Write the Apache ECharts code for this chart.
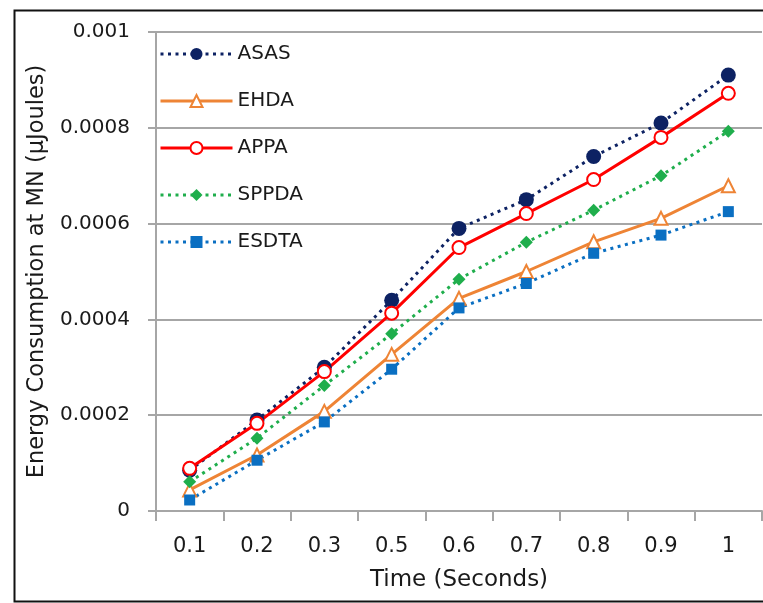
<!DOCTYPE html>
<html>
<head>
<meta charset="utf-8">
<script src="https://cdn.jsdelivr.net/npm/echarts@6/dist/echarts.min.js"></script>
<style>
  html, body { margin: 0; padding: 0; background: #fff; }
  #chart { width: 763px; height: 603px; }
</style>
</head>
<body>
<div id="chart"></div>
<script>
// Simulation time points (seconds)
const timeLabels = ['0.1', '0.2', '0.3', '0.5', '0.6', '0.7', '0.8', '0.9', '1'];

// Energy consumption at MN (µJoules) per scheme
const asas  = [0.000085, 0.00019, 0.000300, 0.00044, 0.00059, 0.00065, 0.00074, 0.00081, 0.00091];
const ehda  = [0.000044, 0.000117, 0.000208, 0.000327, 0.000444, 0.0005, 0.000562, 0.000611, 0.000679];
const appa  = [0.000089, 0.000183, 0.000291, 0.000413, 0.00055, 0.000621, 0.000692, 0.00078, 0.000872];
const sppda = [0.000061, 0.000152, 0.000262, 0.00037, 0.000484, 0.000561, 0.000628, 0.0007, 0.000793];
const esdta = [0.000023, 0.000106, 0.000186, 0.000296, 0.000424, 0.000475, 0.000538, 0.000576, 0.000625];

// Value axis tick labels
const yTickLabels = ['0', '0.0002', '0.0004', '0.0006', '0.0008', '0.001'];

const FONT = 'DejaVu Sans';
const TEXT = '#1a1a1a';
const AXIS_GRAY = '#a6a6a6';
const DOT = [3, 4.5];

const chart = echarts.init(document.getElementById('chart'), null, { renderer: 'canvas' });

function lineSeries(name, data, color, symbol, size, dash, fill) {
  return {
    name: name,
    type: 'line',
    data: data,
    symbol: symbol,
    symbolSize: size,
    showAllSymbol: true,
    lineStyle: { color: color, width: 3, type: dash },
    itemStyle: { color: color, borderColor: color, borderWidth: fill ? 0 : 2 },
    emphasis: { disabled: true },
    animation: false,
    z: 3
  };
}

chart.setOption({
  animation: false,
  backgroundColor: '#fff',
  textStyle: { fontFamily: FONT, color: TEXT },
  grid: { left: 156, right: 1, top: 32, bottom: 92, containLabel: false },
  legend: {
    orient: 'vertical',
    left: 159,
    top: 44,
    padding: 0,
    itemGap: 27,
    itemWidth: 72,
    itemHeight: 15,
    lineStyle: { width: 3 },
    textStyle: { fontFamily: FONT, fontSize: 20, color: TEXT },
    data: ['ASAS', 'EHDA', 'APPA', 'SPPDA', 'ESDTA']
  },
  xAxis: {
    type: 'category',
    data: timeLabels,
    boundaryGap: true,
    name: 'Time (Seconds)',
    nameLocation: 'middle',
    nameGap: 58,
    nameTextStyle: { fontFamily: FONT, fontSize: 23, color: TEXT },
    axisLine: { show: true, lineStyle: { color: AXIS_GRAY, width: 2 } },
    axisTick: { show: true, length: 10, interval: 0, lineStyle: { color: AXIS_GRAY, width: 2 } },
    axisLabel: { interval: 0, margin: 25, fontFamily: FONT, fontSize: 21, color: TEXT },
    splitLine: { show: false }
  },
  yAxis: {
    type: 'value',
    min: 0,
    max: 0.001,
    interval: 0.0002,
    name: 'Energy Consumption at MN (µJoules)',
    nameLocation: 'middle',
    nameGap: 103,
    nameRotate: 90,
    nameTextStyle: { fontFamily: FONT, fontSize: 22.5, color: TEXT },
    axisLine: { show: true, lineStyle: { color: AXIS_GRAY, width: 2 } },
    axisTick: { show: true, length: 8, lineStyle: { color: AXIS_GRAY, width: 2 } },
    axisLabel: {
      margin: 26,
      fontFamily: FONT,
      fontSize: 20,
      color: TEXT,
      formatter: function (v) { return yTickLabels[Math.round(v / 0.0002)]; }
    },
    splitLine: { show: true, lineStyle: { color: AXIS_GRAY, width: 2 } }
  },
  series: [
    lineSeries('ASAS', asas, '#0d2263', 'circle', 15, DOT, true),
    lineSeries('EHDA', ehda, '#ee8435', 'emptyTriangle', 13, 'solid', false),
    lineSeries('APPA', appa, '#ff0000', 'emptyCircle', 13, 'solid', false),
    lineSeries('SPPDA', sppda, '#1fae4c', 'diamond', 13, DOT, true),
    lineSeries('ESDTA', esdta, '#0a6fc2', 'rect', 11, DOT, true)
  ],
  graphic: [
    {
      type: 'rect',
      left: 12, top: 8,
      shape: { x: 12, y: 8, width: 760, height: 591 },
      style: { fill: 'none', stroke: '#111', lineWidth: 2 },
      silent: true,
      z: 10
    }
  ]
});
</script>
</body>
</html>
